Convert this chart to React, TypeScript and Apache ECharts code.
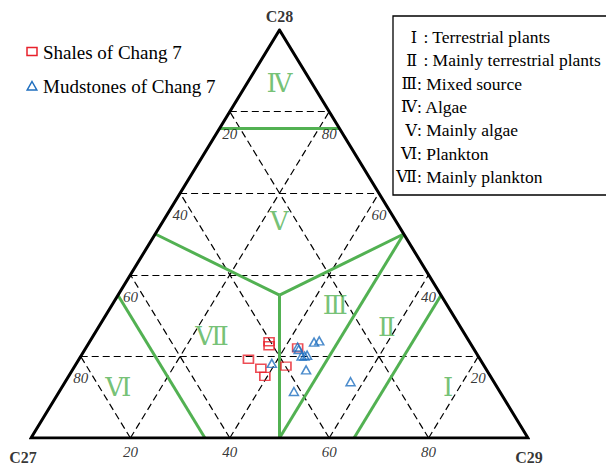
import React, { useEffect, useRef } from "react";
import * as echarts from "echarts";

// Ternary compositions [C27, C28, C29] (%)
const shales: number[][] = [
  [40.3, 23.6, 36.1],
  [40.8, 22.6, 36.6],
  [46.6, 19.3, 34.1],
  [45.2, 17.1, 37.7],
  [45.4, 15.1, 39.5],
  [39.9, 17.6, 42.5],
  [35.3, 22.1, 42.6],
];
const mudstones: number[][] = [
  [42.4, 18.3, 39.3],
  [35.2, 22.3, 42.5],
  [35.3, 21.7, 43.0],
  [35.5, 20.1, 44.4],
  [34.9, 20.1, 45.0],
  [34.3, 20.3, 45.4],
  [31.3, 23.5, 45.2],
  [30.1, 23.8, 46.1],
  [36.3, 16.7, 47.0],
  [41.4, 11.4, 47.2],
  [28.8, 13.8, 57.4],
];

const gridLevels = [20, 40, 60, 80];
const tickValues = [20, 40, 60, 80];

const regionNumerals = ["Ⅰ", "Ⅱ", "Ⅲ", "Ⅳ", "Ⅴ", "Ⅵ", "Ⅶ"];
const regionDescriptions = [
  "Terrestrial plants",
  "Mainly terrestrial plants",
  "Mixed source",
  "Algae",
  "Mainly algae",
  "Plankton",
  "Mainly plankton",
];
// label anchor of each region, ternary [C27, C28, C29]
const regionLabelPoints: number[][] = [
  [9.9, 12.3, 77.8],
  [14.8, 27.2, 58.0],
  [22.6, 32.4, 45.0],
  [6.5, 87.0, 6.5],
  [23.5, 53.0, 23.5],
  [76.3, 12.3, 11.4],
  [51.1, 25.0, 23.9],
];

// region boundaries, ternary segments
const boundaries: number[][][] = [
  [[24, 76, 0], [0, 76, 24]],
  [[50, 50, 0], [32.5, 35, 32.5]],
  [[32.5, 35, 32.5], [0, 50, 50]],
  [[32.5, 35, 32.5], [50, 0, 50]],
  [[0, 50, 50], [50, 0, 50]],
  [[0, 35, 65], [35, 0, 65]],
  [[65, 35, 0], [65, 0, 35]],
];

const vertices = { C27: [100, 0, 0], C28: [0, 100, 0], C29: [0, 0, 100] };

function toXY(t: number[]): number[] {
  const [a, b, c] = t;
  const s = a + b + c;
  return [((c + b / 2) / s) * 100, (b / s) * 100];
}

const FONT = "'Liberation Serif', 'DejaVu Serif', 'Times New Roman', serif";
const GREEN = "#52b152";
const RED = "#e8212b";
const BLUE = "#1f6fbf";

export default function App() {
  const ref = useRef<HTMLDivElement>(null);

  useEffect(() => {
    if (!ref.current) return;
    const chart = echarts.init(ref.current, undefined, { renderer: "svg" });

    const gridSegments: any[] = [];
    gridLevels.forEach((c) => {
      gridSegments.push({ coords: [toXY([100 - c, c, 0]), toXY([0, c, 100 - c])] });
      gridSegments.push({ coords: [toXY([100 - c, 0, c]), toXY([0, 100 - c, c])] });
      gridSegments.push({ coords: [toXY([c, 0, 100 - c]), toXY([c, 100 - c, 0])] });
    });

    const tickData: any[] = [];
    tickValues.forEach((v) => {
      tickData.push({ value: toXY([v, 100 - v, 0]), label: { formatter: String(v), offset: [0, 22] } });
      tickData.push({ value: toXY([0, v, 100 - v]), label: { formatter: String(v), offset: [0, 22] } });
      tickData.push({ value: toXY([100 - v, 0, v]), label: { formatter: String(v), offset: [0, 14] } });
    });

    const titleData = [
      { value: toXY(vertices.C28), label: { formatter: "C28", offset: [0, -14] } },
      { value: toXY(vertices.C27), label: { formatter: "C27", offset: [-8, 19] } },
      { value: toXY(vertices.C29), label: { formatter: "C29", offset: [1, 19] } },
    ];

    const regionData = regionLabelPoints.map((p, i) => ({
      value: toXY(p),
      label: { formatter: regionNumerals[i] },
    }));

    const legendRows: any[] = [];
    regionNumerals.forEach((n, i) => {
      const y = 37 + i * 23.33;
      legendRows.push({
        type: "text",
        x: 417,
        y,
        style: { text: n, font: `16px ${FONT}`, fill: "#000", align: "right", verticalAlign: "middle" },
      });
      legendRows.push({
        type: "text",
        x: i < 2 ? 419 : 417,
        y,
        style: {
          text: (i < 2 ? " " : "") + ": " + regionDescriptions[i],
          font: `17.5px ${FONT}`,
          fill: "#000",
          align: "left",
          verticalAlign: "middle",
        },
      });
    });

    chart.setOption({
      animation: false,
      backgroundColor: "#fff",
      grid: { left: 31, right: 78, top: 30, bottom: 29 },
      xAxis: { type: "value", min: 0, max: 100, show: false },
      yAxis: { type: "value", min: 0, max: 100, show: false },
      graphic: [
        {
          type: "rect",
          shape: { x: 393, y: 16, width: 240, height: 179 },
          style: { fill: "#fff", stroke: "#000", lineWidth: 1.3 },
        },
        ...legendRows,
        {
          type: "rect",
          shape: { x: 27, y: 47.5, width: 10, height: 8 },
          style: { fill: "none", stroke: RED, lineWidth: 1.5 },
        },
        {
          type: "text",
          x: 43,
          y: 52,
          style: { text: "Shales of Chang 7", font: `19px ${FONT}`, fill: "#000", verticalAlign: "middle" },
        },
        {
          type: "polygon",
          shape: { points: [[32, 81.5], [36.8, 90], [27.2, 90]] },
          style: { fill: "none", stroke: BLUE, lineWidth: 1.5 },
        },
        {
          type: "text",
          x: 43,
          y: 86,
          style: { text: "Mudstones of Chang 7", font: `19px ${FONT}`, fill: "#000", verticalAlign: "middle" },
        },
      ],
      series: [
        {
          type: "lines",
          coordinateSystem: "cartesian2d",
          silent: true,
          z: 1,
          lineStyle: { color: "#000", width: 1.2, type: [7, 4], opacity: 1 },
          data: gridSegments,
        },
        {
          type: "lines",
          coordinateSystem: "cartesian2d",
          silent: true,
          z: 2,
          lineStyle: { color: GREEN, width: 3, opacity: 1 },
          data: boundaries.map((seg) => ({ coords: seg.map(toXY) })),
        },
        {
          type: "line",
          silent: true,
          z: 3,
          symbol: "none",
          lineStyle: { color: "#000", width: 3, join: "miter" },
          data: [vertices.C27, vertices.C28, vertices.C29, vertices.C27, vertices.C28].map(toXY),
        },
        {
          name: "Shales of Chang 7",
          type: "scatter",
          z: 5,
          symbol: "rect",
          symbolSize: [10, 8],
          itemStyle: { color: "rgba(0,0,0,0)", borderColor: RED, borderWidth: 1.5 },
          data: shales.map(toXY),
        },
        {
          name: "Mudstones of Chang 7",
          type: "scatter",
          z: 6,
          symbol: "triangle",
          symbolSize: [9, 8],
          itemStyle: { color: "rgba(0,0,0,0)", borderColor: BLUE, borderWidth: 1.5 },
          data: mudstones.map(toXY),
        },
        {
          type: "scatter",
          silent: true,
          z: 4,
          symbolSize: 1,
          itemStyle: { color: "rgba(0,0,0,0)" },
          label: {
            show: true,
            position: "inside",
            fontFamily: FONT,
            fontStyle: "italic",
            fontSize: 15,
            color: "#000",
          },
          data: tickData,
        },
        {
          type: "scatter",
          silent: true,
          z: 4,
          symbolSize: 1,
          itemStyle: { color: "rgba(0,0,0,0)" },
          label: {
            show: true,
            position: "inside",
            fontFamily: FONT,
            fontWeight: "bold",
            fontSize: 16,
            color: "#000",
          },
          data: titleData,
        },
        {
          type: "scatter",
          silent: true,
          z: 4,
          symbolSize: 1,
          itemStyle: { color: "rgba(0,0,0,0)" },
          label: {
            show: true,
            position: "inside",
            fontFamily: FONT,
            fontSize: 26,
            color: GREEN,
          },
          data: regionData,
        },
      ],
    });

    return () => chart.dispose();
  }, []);

  return (
    <div
      ref={ref}
      style={{ position: "fixed", left: 0, top: 0, width: 606, height: 467, background: "#fff" }}
    />
  );
}
